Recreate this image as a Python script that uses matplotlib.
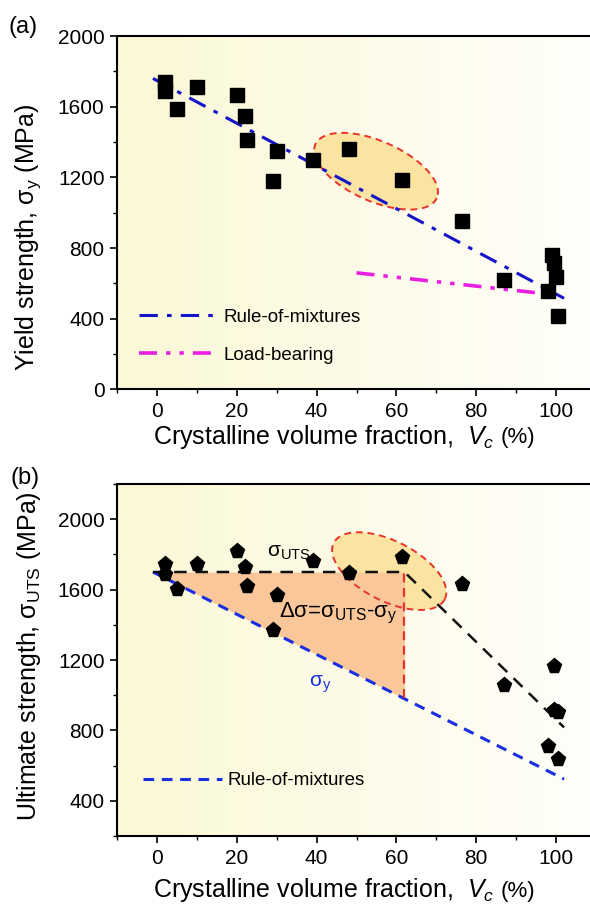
import numpy as np
import matplotlib
matplotlib.use("Agg")
import matplotlib.pyplot as plt

plt.rcParams['font.family'] = ['Liberation Sans', 'DejaVu Sans']
plt.rcParams['mathtext.fontset'] = 'custom'
plt.rcParams['mathtext.rm'] = 'Liberation Sans'
plt.rcParams['mathtext.it'] = 'Liberation Sans:italic'

# ---- data (a) yield strength ----
vc_a = [2, 2, 5, 10, 20, 22, 22.5, 30, 29, 39, 48, 61.5, 76.5, 87, 98, 99, 99.5, 100, 100.5]
ys_a = [1740, 1690, 1585, 1710, 1665, 1545, 1410, 1350, 1180, 1300, 1360, 1185, 955, 620, 560, 760, 715, 637, 416]
rom_a_vc = [-1, 102]
rom_a_y = [1760, 516]
lb_vc = [50, 100]
lb_y = [660, 535]

# ---- data (b) ultimate strength ----
vc_b = [2, 2, 5, 10, 20, 22, 22.5, 30, 29, 39, 48, 61.5, 76.5, 87, 99.5, 99.5, 100.5, 98, 100.5]
uts_b = [1748, 1688, 1606, 1744, 1820, 1726, 1621, 1570, 1371, 1763, 1697, 1788, 1631, 1058, 1167, 917, 905, 713, 640]
rom_b_vc = [-1, 102]
rom_b_y = [1700, 523]
uts_fit_vc = [-1, 62, 102]
uts_fit_y = [1700, 1700, 817]
vert_vc = [62, 62]
vert_y = [985, 1700]

xticks = [0, 20, 40, 60, 80, 100]
xlabel = r'Crystalline volume fraction,  $V_c$ '

fig = plt.figure(figsize=(5.9, 9.06), dpi=100)
W, H = 590, 906


def make_ax(top_px, bot_px):
    left = 117 / W
    width = 479 / W
    return fig.add_axes([left, 1 - bot_px / H, width, (bot_px - top_px) / H])


def background(ax):
    grad = np.linspace(0, 1, 256)[None, :]
    c0 = np.array([251, 248, 214]) / 255
    c1 = np.array([255, 254, 250]) / 255
    img = c0[None, None, :] * (1 - grad[..., None]) + c1[None, None, :] * grad[..., None]
    ax.imshow(img, extent=[0, 1, 0, 1], transform=ax.transAxes, aspect='auto', zorder=0)


def ellipse(ax, cx, cy, u, v, zf, ze):
    t = np.linspace(0, 2 * np.pi, 200)
    ex = cx + u[0] * np.cos(t) + v[0] * np.sin(t)
    ey = cy + u[1] * np.cos(t) + v[1] * np.sin(t)
    ax.fill(ex, ey, color='#fbe3a2', lw=0, zorder=zf)
    ax.plot(ex, ey, color='#e8332a', ls=(0, (3.5, 2.5)), lw=1.4, zorder=ze)


def style(ax, ylim, yticks):
    ax.set_xlim(-10, 110)
    ax.set_ylim(*ylim)
    ax.set_xticks(xticks)
    ax.set_xticks(np.arange(-10, 110, 20), minor=True)
    ax.set_yticks(yticks)
    ax.tick_params(which='major', direction='out', length=5, width=1.2, labelsize=15, pad=4)
    ax.tick_params(which='minor', direction='out', length=3, width=1.0)
    for s in ['left', 'bottom', 'top']:
        ax.spines[s].set_linewidth(1.5)
    ax.spines['right'].set_visible(False)


def x_label(y_px):
    t = fig.text(153 / W, 1 - y_px / H, xlabel, fontsize=18, ha='left', va='center')
    r = fig.canvas.get_renderer()
    bb = t.get_window_extent(r)
    fig.text(bb.x1 / W + 5 / W, 1 - (y_px + 1) / H, '(%)', fontsize=16, ha='left', va='center')


# ---------- panel (a) ----------
axa = make_ax(36, 389.5)
background(axa)
ellipse(axa, 54.9, 1235, (15.2, -152), (-3.1, -155), 1, 3)
axa.plot(rom_a_vc, rom_a_y, color='#1515c8', lw=2.2, ls=(0, (6, 3, 1.5, 3)), zorder=4,
         label='Rule-of-mixtures')
axa.plot(lb_vc, lb_y, color='#e81ee0', lw=2.6, ls=(0, (5, 2.5, 1.2, 2.5, 1.2, 2.5)), zorder=4,
         label='Load-bearing')
axa.plot(vc_a, ys_a, ls='none', marker='s', ms=9.5, color='black', zorder=5)
style(axa, (0, 2000), [0, 400, 800, 1200, 1600, 2000])
axa.set_yticks([200, 600, 1000, 1400, 1800], minor=True)
axa.set_ylabel(r'Yield strength, σ$_{\rm y}$ (MPa)', fontsize=18)
axa.yaxis.set_label_coords(-0.155, 0.43)
axa.legend(loc='lower left', bbox_to_anchor=(0.01, 0.025), frameon=False, fontsize=13.5,
           handlelength=4.2, handletextpad=0.3, labelspacing=1.1)
fig.text(8 / W, 1 - 27 / H, '(a)', fontsize=17, va='center', ha='left')
x_label(437)

# ---------- panel (b) ----------
axb = make_ax(484, 836)
background(axb)
ellipse(axb, 58.2, 1705, (13.9, -160), (-3.4, -152), 1, 3)
xf = np.linspace(1, 62, 50)
yb = np.interp(xf, rom_b_vc, rom_b_y)
axb.fill_between(xf, yb, 1700, color='#f9c79a', lw=0, zorder=2)
axb.plot(rom_b_vc, rom_b_y, color='#1a2fe0', lw=2.2, ls=(0, (3.5, 2.5)), zorder=4,
         label='Rule-of-mixtures')
axb.plot(uts_fit_vc, uts_fit_y, color='#111111', lw=1.8, ls=(0, (5, 3.5)), zorder=4)
axb.plot(vert_vc, vert_y, color='#e8332a', lw=1.6, ls=(0, (4, 2.5)), zorder=4)
axb.plot(vc_b, uts_b, ls='none', marker='p', ms=11, color='black', zorder=5)
style(axb, (200, 2200), [400, 800, 1200, 1600, 2000])
axb.set_yticks([200, 600, 1000, 1400, 1800, 2200], minor=True)
axb.set_ylabel(r'Ultimate strength, σ$_{\rm UTS}$ (MPa)', fontsize=18)
axb.yaxis.set_label_coords(-0.155, 0.51)
axb.legend(loc='lower left', bbox_to_anchor=(0.02, 0.085), frameon=False, fontsize=13.5,
           handlelength=4.2, handletextpad=0.3)
axb.text(27.5, 1810, r'σ$_{\rm UTS}$', fontsize=15, ha='left', va='center', zorder=6)
axb.text(45.5, 1466, r'Δσ=σ$_{\rm UTS}$-σ$_{\rm y}$', fontsize=16, ha='center', va='center', zorder=6)
axb.text(41, 1063, r'σ$_{\rm y}$', fontsize=15, color='#1a2fe0', ha='center', va='center', zorder=6)
fig.text(10 / W, 1 - 478 / H, '(b)', fontsize=17, va='center', ha='left')
x_label(890)

fig.savefig('out.png', dpi=100)
